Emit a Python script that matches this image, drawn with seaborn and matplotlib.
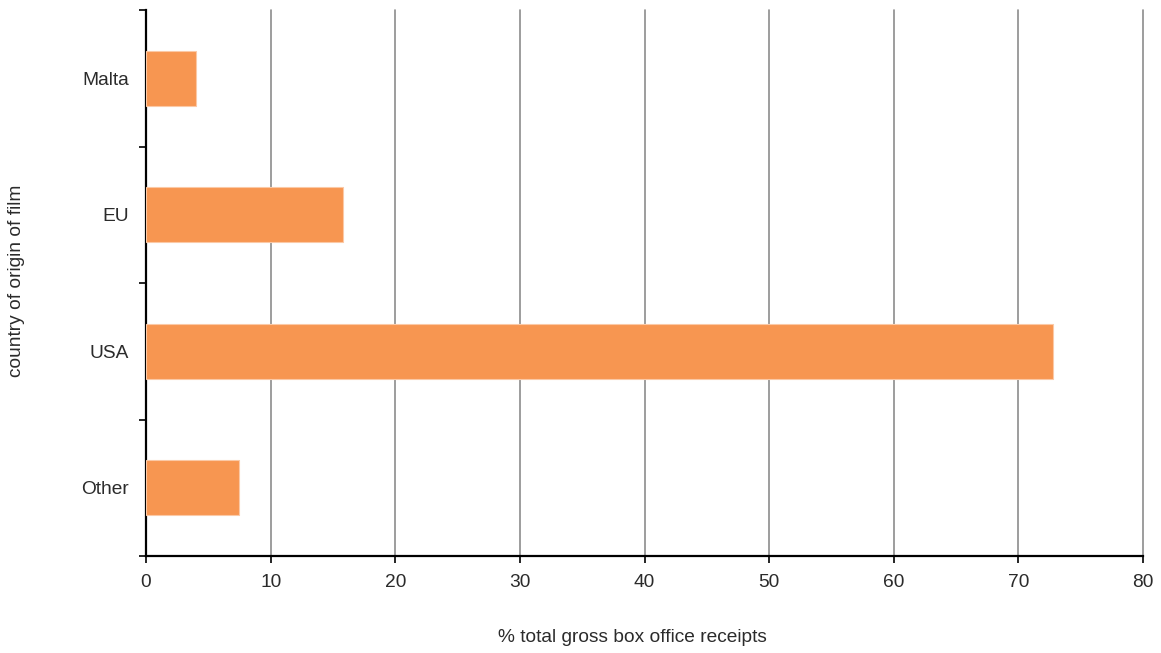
import matplotlib
matplotlib.use("Agg")
import matplotlib.pyplot as plt
import seaborn as sns
import pandas as pd

categories = ["Malta", "EU", "USA", "Other"]
values = [4.0, 15.8, 72.8, 7.5]
x_ticks = [0, 10, 20, 30, 40, 50, 60, 70, 80]

sns.set_theme(style="white")
plt.rcParams['font.family'] = ['Liberation Sans', 'DejaVu Sans']

df = pd.DataFrame({"country": categories, "pct": values})

fig = plt.figure(figsize=(11.61, 6.53), dpi=100)
ax = fig.add_axes([146/1161, 1 - 556/653, (1143 - 146)/1161, (556 - 10)/653])

sns.barplot(data=df, y="country", x="pct", order=categories, color="#F79651",
            saturation=1, width=0.4, edgecolor="#FBC9A6", linewidth=0.8, ax=ax, zorder=3)

ax.set_xlim(0, 80)
ax.set_ylim(3.5, -0.5)
ax.set_xticks(x_ticks)
ax.set_xticklabels([str(t) for t in x_ticks])
ax.xaxis.grid(True, color="#8c8c8c", linewidth=1.2, zorder=0)
for gl in ax.get_xgridlines():
    gl.set_clip_on(False)
ax.yaxis.grid(False)
ax.set_axisbelow(True)

# y ticks at category boundaries
ax.set_yticks([0, 1, 2, 3])
ax.set_yticklabels(categories)
ax.set_yticks([-0.5, 0.5, 1.5, 2.5, 3.5], minor=True)
ax.tick_params(axis="y", which="major", length=0, pad=12, labelsize=13.8, labelcolor="#2b2b2b")
ax.tick_params(axis="y", which="minor", left=True, length=5, width=1.2, color="black")
ax.tick_params(axis="x", bottom=True, length=5, width=1.2, color="black", labelsize=13.8,
               labelcolor="#2b2b2b", pad=8)

for s in ["top", "right"]:
    ax.spines[s].set_visible(False)
for s in ["left", "bottom"]:
    ax.spines[s].set_visible(True)
    ax.spines[s].set_color("black")
    ax.spines[s].set_linewidth(1.6)

ax.set_xlabel("")
ax.set_ylabel("")
fig.text(632/1161, 1 - 638/653, "% total gross box office receipts", ha="center", va="center",
         fontsize=13.8, color="#2b2b2b")
fig.text(17/1161, 1 - 281/653, "country of origin of film", ha="center", va="center",
         rotation=90, fontsize=13.8, color="#2b2b2b")

fig.savefig("out.png", dpi=100)
